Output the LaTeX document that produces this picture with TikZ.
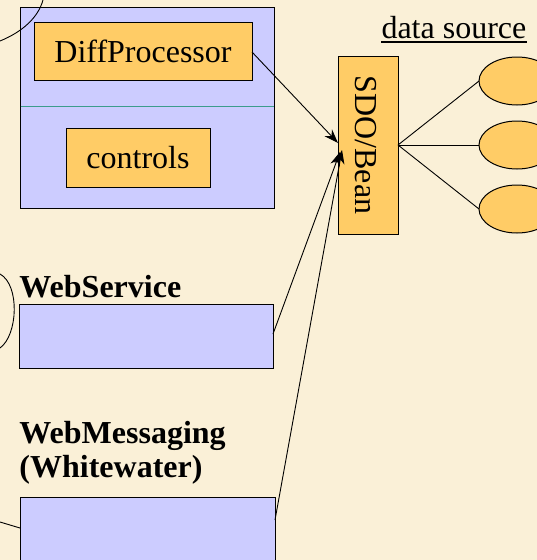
\documentclass[tikz,border=0pt]{standalone}
\usepackage{fontspec}
\setmainfont{Liberation Serif}
\usetikzlibrary{arrows.meta,shapes.geometric}
\definecolor{bg}{HTML}{FAF0D7}
\definecolor{lav}{HTML}{CCCCFF}
\definecolor{gold}{HTML}{FFCC66}
\definecolor{tealline}{HTML}{3C9C8C}
\begin{document}
\begin{tikzpicture}[x=1pt,y=-1pt, line width=1pt,
  lavbox/.style={draw=black, fill=lav, inner sep=0pt, outer sep=0pt},
  goldbox/.style={draw=black, fill=gold, inner sep=0pt, outer sep=0pt, font=\fontsize{32}{38}\selectfont},
  lbl/.style={anchor=base west, inner sep=0pt, font=\fontsize{32}{38}\selectfont\bfseries},
  plain/.style={anchor=base west, inner sep=0pt, font=\fontsize{32}{38}\selectfont},
  ell/.style={draw=black, fill=gold, ellipse, inner sep=0pt, outer sep=0pt, minimum width=76pt, minimum height=48pt},
  conn/.style={draw=black, line width=0.9pt},
  arr/.style={conn, -{Stealth[length=14pt,width=10pt]}}]
\fill[bg] (0,0) rectangle (537,560);
\useasboundingbox (0,0) rectangle (537,560);

% left container
\node[lavbox, minimum width=254pt, minimum height=201pt] (outer) at (147,107.5) {};
\draw[tealline, line width=1pt] (20.5,106) -- (273.5,106);
\node[goldbox, minimum width=218pt, minimum height=58pt] (diff) at (143,51) {DiffProcessor};
\node[goldbox, minimum width=144pt, minimum height=59pt] (ctrl) at (138,157.5) {controls};

% SDO/Bean
\node[goldbox, minimum width=60pt, minimum height=178pt] (sdo) at (368,145) {};
\node[rotate=-90, anchor=base, inner sep=0pt, font=\fontsize{32}{38}\selectfont] (sdotext) at (355,145) {SDO/Bean};

% data source
\node[plain] (ds) at (381,38) {data source};
\draw[line width=1.4pt] ([yshift=-4pt]ds.base west) -- ([yshift=-4pt]ds.base east);
\node[ell] (e1) at (517,81) {};
\node[ell] (e2) at (517,145) {};
\node[ell] (e3) at (517,209) {};
\draw[conn] (sdo.east) -- (e1.west);
\draw[conn] (sdo.east) -- (e2.west);
\draw[conn] (sdo.east) -- (e3.west);

% WebService
\node[lbl] (wslbl) at (19,297) {WebService};
\node[lavbox, minimum width=254pt, minimum height=64pt] (ws) at (146,336) {};

% WebMessaging
\node[lbl] (wmlbl1) at (19,443) {WebMessaging};
\node[lbl] (wmlbl2) at (19,477) {(Whitewater)};
\node[lavbox, minimum width=255pt, minimum height=90pt] (wm) at (147.5,542) {};

% arrows
\coordinate (t1) at (338,143);
\coordinate (t2) at (340,152);
\coordinate (t3) at (342,150);
\draw[arr] ([yshift=-1pt]diff.east) -- (t1);
\draw[arr] ([yshift=2pt]ws.east) -- (t2);
\draw[arr] ([yshift=-23pt]wm.north east) -- (t3);

% curves at the left edge
\coordinate (c1) at (0,41);
\coordinate (c2) at (43,0);
\draw[conn] (c1) .. controls (22,32) and (38,18) .. (c2);
\coordinate (c3) at (0,274);
\coordinate (c4) at (0,348);
\draw[conn] (c3) .. controls (20,285) and (18,335) .. (c4);
\coordinate (c5) at (0,522);
\draw[conn] (c5) -- ([yshift=-31pt]wm.north west);
\end{tikzpicture}
\end{document}
